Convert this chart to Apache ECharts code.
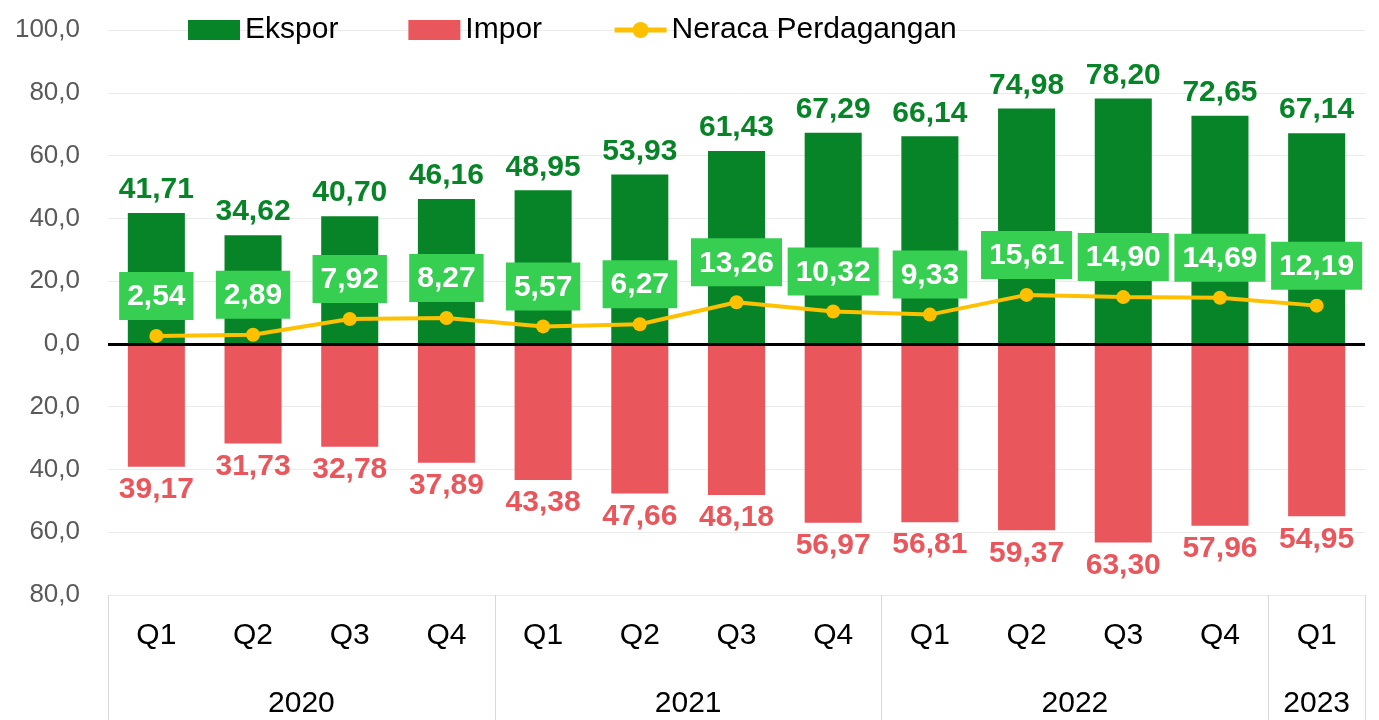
<!DOCTYPE html>
<html>
<head>
<meta charset="utf-8">
<script src="https://cdn.jsdelivr.net/npm/echarts@6/dist/echarts.min.js"></script>
<style>
  html, body { margin: 0; padding: 0; background: #fff; }
  #main { width: 1379px; height: 720px; }
</style>
</head>
<body>
<div id="main"></div>
<script>
// data
var quarters = ['Q1','Q2','Q3','Q4','Q1','Q2','Q3','Q4','Q1','Q2','Q3','Q4','Q1'];
var years = ['2020', '2021', '2022', '2023'];
var yearMid = [2, 6, 10, 12.5];
var yearEdges = [0, 4, 8, 12, 13];
var ekspor = [41.71, 34.62, 40.70, 46.16, 48.95, 53.93, 61.43, 67.29, 66.14, 74.98, 78.20, 72.65, 67.14];
var impor = [39.17, 31.73, 32.78, 37.89, 43.38, 47.66, 48.18, 56.97, 56.81, 59.37, 63.30, 57.96, 54.95];
var neraca = [2.54, 2.89, 7.92, 8.27, 5.57, 6.27, 13.26, 10.32, 9.33, 15.61, 14.90, 14.69, 12.19];

var FONT = "'Liberation Sans Narrow', 'Arial Narrow', 'Liberation Sans', sans-serif";

function fmt(v) {
  return Math.abs(v).toFixed(2).replace('.', ',');
}

var myChart = echarts.init(document.getElementById('main'));

var option = {
  animation: false,
  textStyle: { fontFamily: FONT },
  grid: { left: 108, right: 14, top: 30, bottom: 125 },
  legend: {
    left: 183,
    top: 10,
    itemWidth: 52,
    itemHeight: 20,
    itemGap: 70,
    textStyle: { fontFamily: FONT, fontSize: 30, color: '#000' },
    data: [
      { name: 'Ekspor', icon: 'rect' },
      { name: 'Impor', icon: 'rect' },
      { name: 'Neraca Perdagangan', lineStyle: { width: 5 } }
    ]
  },
  xAxis: [{
    type: 'category',
    data: quarters,
    axisLine: { show: true, lineStyle: { color: '#d9d9d9', width: 1 } },
    axisTick: { show: false },
    axisLabel: { fontFamily: FONT, fontSize: 30, color: '#000', margin: 26 }
  }, {
    type: 'value',
    position: 'bottom',
    min: 0,
    max: 13,
    axisLine: { show: false },
    splitLine: { show: false },
    axisTick: {
      show: true,
      customValues: yearEdges,
      length: 130,
      lineStyle: { color: '#d9d9d9', width: 1 }
    },
    axisLabel: {
      customValues: yearMid,
      fontFamily: FONT, fontSize: 30, color: '#000', margin: 94,
      formatter: function (v) {
        var i = yearMid.indexOf(v);
        return i >= 0 ? years[i] : '';
      }
    }
  }],
  yAxis: {
    type: 'value',
    min: -80,
    max: 100,
    interval: 20,
    axisLine: { show: false },
    axisTick: { show: false },
    splitLine: { lineStyle: { color: '#ebebeb', width: 1 } },
    axisLabel: {
      fontFamily: FONT, fontSize: 26, color: '#595959', margin: 28,
      formatter: function (v) { return Math.abs(v).toFixed(1).replace('.', ','); }
    }
  },
  series: [{
    name: 'Ekspor',
    type: 'bar',
    barWidth: '59%',
    barGap: '-100%',
    itemStyle: { color: '#078427' },
    label: {
      show: true, position: 'top', distance: 8,
      fontFamily: FONT, fontSize: 30, fontWeight: 'bold', color: '#078427',
      formatter: function (p) { return fmt(p.value); }
    },
    data: ekspor,
    markLine: {
      silent: true,
      symbol: 'none',
      label: { show: false },
      lineStyle: { color: '#000', width: 3, type: 'solid' },
      data: [{ yAxis: 0 }]
    },
    z: 2
  }, {
    name: 'Impor',
    type: 'bar',
    barWidth: '59%',
    itemStyle: { color: '#e9565c' },
    label: {
      show: true, position: 'bottom', distance: 8,
      fontFamily: FONT, fontSize: 30, fontWeight: 'bold', color: '#e9565c',
      formatter: function (p) { return fmt(p.value); }
    },
    data: impor.map(function (v) { return -v; }),
    z: 2
  }, {
    name: 'Neraca Perdagangan',
    type: 'line',
    symbol: 'circle',
    symbolSize: 14,
    lineStyle: { color: '#ffc000', width: 4 },
    itemStyle: { color: '#ffc000' },
    label: {
      show: true, position: 'top', distance: 9,
      fontFamily: FONT, fontSize: 30, fontWeight: 'bold', color: '#fff',
      backgroundColor: '#37cf52',
      padding: [10, 8, 8, 8],
      formatter: function (p) { return fmt(p.value); }
    },
    data: neraca,
    z: 5
  }]
};

myChart.setOption(option);
</script>
</body>
</html>
